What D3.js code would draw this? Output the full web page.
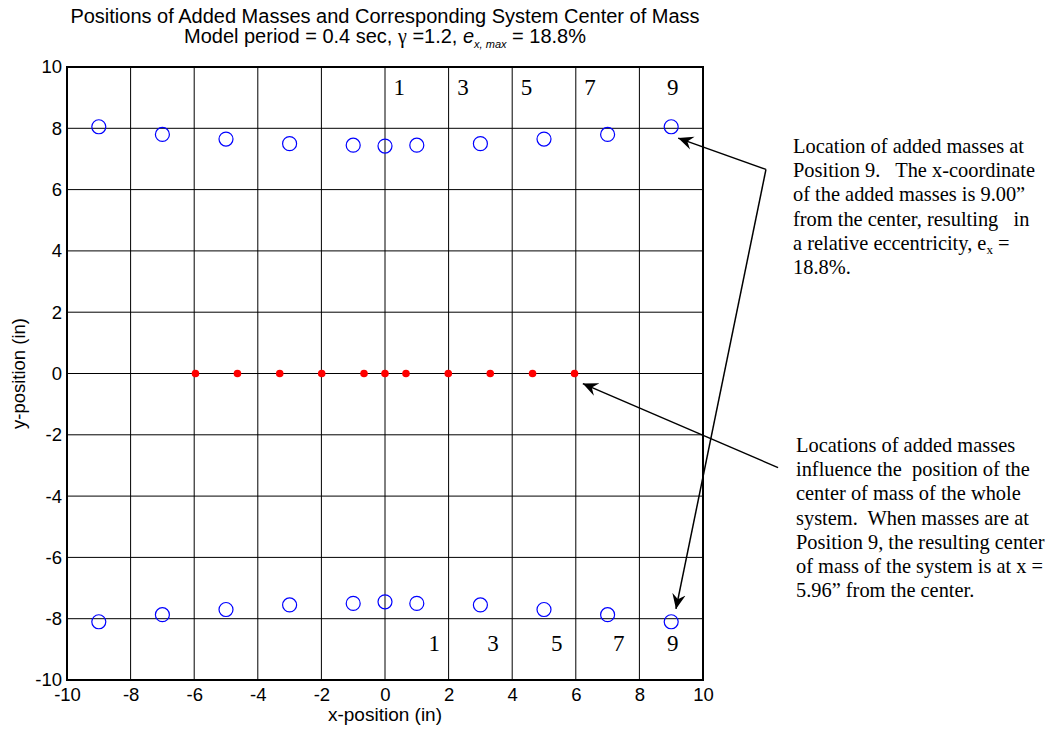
<!DOCTYPE html>
<html>
<head>
<meta charset="utf-8">
<script src="https://cdn.jsdelivr.net/npm/d3@7"></script>
<style>
  body { margin: 0; background: #fff; }
  svg text { font-family: Arial, "Liberation Sans", sans-serif; }
  .serif { font-family: "Times New Roman", "Liberation Serif", serif; white-space: pre; }
</style>
</head>
<body>
<div id="chart"></div>
<script>
const W = 1062, H = 740;
const MARGIN = {top: 67, left: 67, width: 636, height: 613};

// mass positions (in)
const massX = [-9, -7, -5, -3, -1, 0, 1, 3, 5, 7, 9];
const massTopY = [8.05, 7.80, 7.65, 7.50, 7.45, 7.42, 7.45, 7.50, 7.65, 7.80, 8.05];
const massBottomY = [-8.10, -7.87, -7.70, -7.55, -7.50, -7.45, -7.50, -7.55, -7.70, -7.87, -8.10];
// system center of mass
const comX = [-5.96, -4.64, -3.31, -1.99, -0.66, 0, 0.66, 1.99, 3.31, 4.64, 5.96];
const comY = [0, 0, 0, 0, 0, 0, 0, 0, 0, 0, 0];

const ticks = [-10, -8, -6, -4, -2, 0, 2, 4, 6, 8, 10];

// position number labels
const posLabels = ['1', '3', '5', '7', '9'];
const posTopX = [0.45, 2.45, 4.45, 6.45, 9.05];
const posTopY = 9.1;
const posBottomX = [1.55, 3.4, 5.4, 7.35, 9.05];
const posBottomY = -9.05;

const note1 = [
  'Location of added masses at',
  'Position 9.   The x-coordinate',
  'of the added masses is 9.00\u201d',
  'from the center, resulting   in',
  'a relative eccentricity, e|x| =',
  '18.8%.'
];
const note2 = [
  'Locations of added masses',
  'influence the  position of the',
  'center of mass of the whole',
  'system.  When masses are at',
  'Position 9, the resulting center',
  'of mass of the system is at x =',
  '5.96\u201d from the center.'
];
// arrows in data coords: [from, to]
const arrows = [
  [[11.98, 6.66], [9.22, 7.68]],
  [[11.98, 6.66], [9.15, -7.68]],
  [[12.36, -3.07], [6.22, -0.33]]
];

const svg = d3.select('#chart').append('svg')
  .attr('width', W).attr('height', H);

const x = d3.scaleLinear().domain([-10, 10]).range([MARGIN.left, MARGIN.left + MARGIN.width]);
const y = d3.scaleLinear().domain([-10, 10]).range([MARGIN.top + MARGIN.height, MARGIN.top]);

svg.append('defs').append('marker')
  .attr('id', 'arrow')
  .attr('viewBox', '0 0 10 10')
  .attr('refX', 10).attr('refY', 5)
  .attr('markerWidth', 15).attr('markerHeight', 15)
  .attr('markerUnits', 'userSpaceOnUse')
  .attr('orient', 'auto')
  .append('path')
  .attr('d', 'M0,0.5 L10,5 L0,9.5 L3.5,5 Z')
  .attr('fill', '#000');

// grid
svg.append('g').selectAll('line')
  .data(ticks.slice(1, -1)).join('line')
  .attr('x1', d => x(d)).attr('x2', d => x(d))
  .attr('y1', y(-10)).attr('y2', y(10))
  .attr('stroke', '#000').attr('stroke-width', 1);
svg.append('g').selectAll('line')
  .data(ticks.slice(1, -1)).join('line')
  .attr('y1', d => y(d)).attr('y2', d => y(d))
  .attr('x1', x(-10)).attr('x2', x(10))
  .attr('stroke', '#000').attr('stroke-width', 1);

// axes
const fmt = d => String(d);
const xAxis = svg.append('g')
  .attr('transform', 'translate(0,' + y(-10) + ')')
  .call(d3.axisBottom(x).tickValues(ticks).tickFormat(fmt).tickSize(0).tickPadding(8));
const yAxis = svg.append('g')
  .attr('transform', 'translate(' + x(-10) + ',0)')
  .call(d3.axisLeft(y).tickValues(ticks).tickFormat(fmt).tickSize(0).tickPadding(5));
[xAxis, yAxis].forEach(a => {
  a.select('.domain').remove();
  a.selectAll('text').attr('font-size', 18.5).attr('fill', '#000')
    .attr('font-family', 'Arial, "Liberation Sans", sans-serif');
});

svg.append('rect')
  .attr('x', x(-10)).attr('y', y(10))
  .attr('width', x(10) - x(-10)).attr('height', y(-10) - y(10))
  .attr('fill', 'none').attr('stroke', '#000').attr('stroke-width', 2);

// masses
svg.append('g').selectAll('circle')
  .data(massX.map((d, i) => [d, massTopY[i]]).concat(massX.map((d, i) => [d, massBottomY[i]])))
  .join('circle')
  .attr('cx', d => x(d[0])).attr('cy', d => y(d[1]))
  .attr('r', 7)
  .attr('fill', 'none').attr('stroke', '#0000ff').attr('stroke-width', 1.2);

// center of mass
svg.append('g').selectAll('circle')
  .data(comX.map((d, i) => [d, comY[i]]))
  .join('circle')
  .attr('cx', d => x(d[0])).attr('cy', d => y(d[1]))
  .attr('r', 3.8)
  .attr('fill', '#ff0000');

// position labels
svg.append('g').selectAll('text')
  .data(posLabels).join('text')
  .attr('class', 'serif')
  .attr('x', (d, i) => x(posTopX[i])).attr('y', y(posTopY))
  .attr('font-size', 23).attr('text-anchor', 'middle')
  .text(d => d);
svg.append('g').selectAll('text')
  .data(posLabels).join('text')
  .attr('class', 'serif')
  .attr('x', (d, i) => x(posBottomX[i])).attr('y', y(posBottomY))
  .attr('font-size', 23).attr('text-anchor', 'middle')
  .text(d => d);

// titles
const cx = x(0);
svg.append('text')
  .attr('x', cx).attr('y', 23)
  .attr('text-anchor', 'middle').attr('font-size', 20)
  .text('Positions of Added Masses and Corresponding System Center of Mass');
const t2 = svg.append('text')
  .attr('x', cx).attr('y', 43)
  .attr('text-anchor', 'middle').attr('font-size', 20);
t2.append('tspan').text('Model period = 0.4 sec, ');
t2.append('tspan').attr('class', 'serif').text('\u03b3');
t2.append('tspan').text(' =1.2, ');
t2.append('tspan').attr('font-style', 'italic').text('e');
t2.append('tspan').attr('font-style', 'italic').attr('font-size', 11).attr('dy', 5).text('x, max');
t2.append('tspan').attr('dy', -5).text(' = 18.8%');

svg.append('text')
  .attr('x', cx).attr('y', 721)
  .attr('text-anchor', 'middle').attr('font-size', 19)
  .text('x-position (in)');
svg.append('text')
  .attr('transform', 'translate(25,' + y(0) + ') rotate(-90)')
  .attr('text-anchor', 'middle').attr('font-size', 18.5)
  .text('y-position (in)');

// notes
function writeNote(lines, x0, y0) {
  const t = svg.append('text').attr('class', 'serif').attr('font-size', 20.4);
  lines.forEach((s, i) => {
    const line = t.append('tspan').attr('x', x0).attr('y', y0 + i * 24.2);
    const parts = s.split('|');
    line.append('tspan').text(parts[0]);
    if (parts.length > 1) {
      line.append('tspan').attr('font-size', 13).attr('dy', 4).text(parts[1]);
      line.append('tspan').attr('dy', -4).text(parts[2]);
    }
  });
}
writeNote(note1, 793, 153);
writeNote(note2, 796, 452);

// arrows
svg.append('g').selectAll('line')
  .data(arrows).join('line')
  .attr('x1', d => x(d[0][0])).attr('y1', d => y(d[0][1]))
  .attr('x2', d => x(d[1][0])).attr('y2', d => y(d[1][1]))
  .attr('stroke', '#000').attr('stroke-width', 1.5)
  .attr('marker-end', 'url(#arrow)');
</script>
</body>
</html>
